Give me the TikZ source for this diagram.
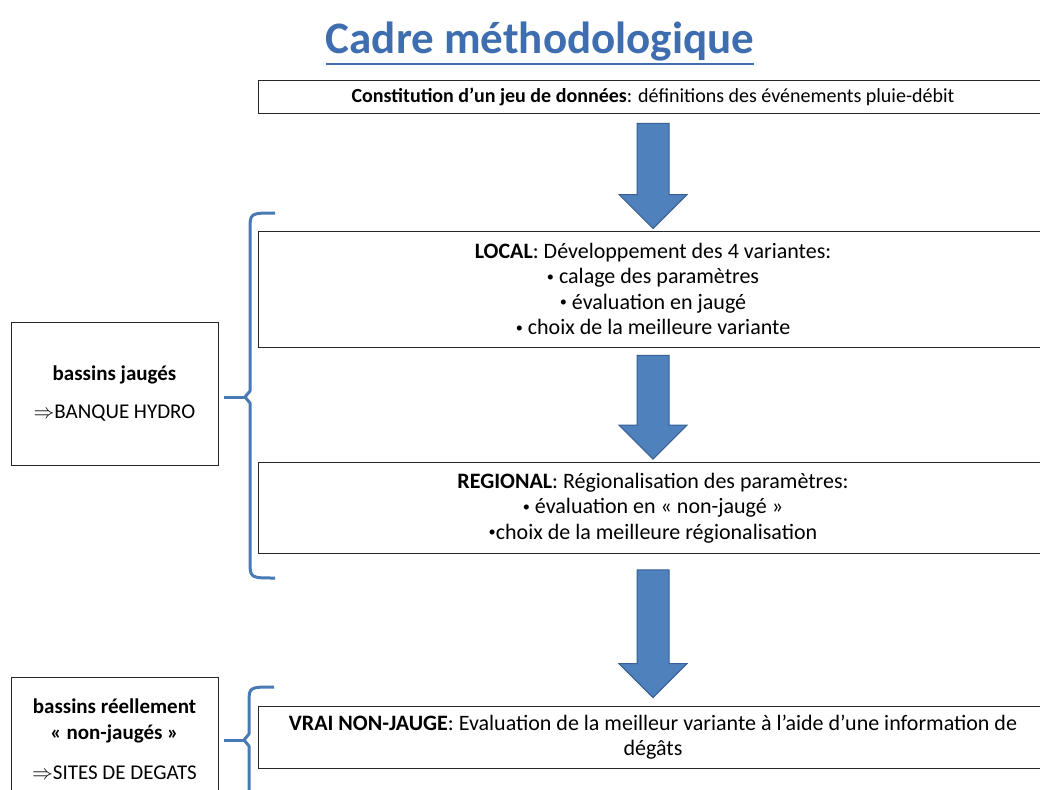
\documentclass[tikz,border=0pt]{standalone}
\usepackage{fontspec}
\usepackage{tikz}
\setmainfont{Carlito}
\usetikzlibrary{arrows.meta,positioning,calc}
\definecolor{TitleBlue}{RGB}{62,110,175}
\definecolor{FlowBlue}{RGB}{79,129,189}
\definecolor{FlowEdge}{RGB}{56,96,148}
\definecolor{BraceBlue}{RGB}{74,122,182}

\newcommand{\puce}{\raisebox{0.12em}{\scalebox{0.65}{•}}}
\newcommand{\flowarrow}[4]{%
  \path ($(#1.south)+(0,#3)$) coordinate (fs) ($(#2.north)+(0,-#4)$) coordinate (ft);
  \filldraw[flow] ($(fs)+(-16,0)$) -- ($(fs)+(16,0)$) -- ($(ft)+(16,-34)$)
    -- ($(ft)+(34,-34)$) -- (ft) -- ($(ft)+(-34,-34)$) -- ($(ft)+(-16,-34)$) -- cycle;
}

\begin{document}
\begin{tikzpicture}[x=1pt, y=-1pt,
  stage/.style={draw=black!85, line width=0.9pt, fill=white, minimum width=790pt,
    inner sep=0pt, align=center, font=\fontsize{22}{25.5}\selectfont},
  side/.style={draw=black!85, line width=0.9pt, fill=white, minimum width=207pt,
    inner sep=0pt, align=center, font=\fontsize{21}{26}\selectfont},
  flow/.style={fill=FlowBlue, draw=FlowEdge, line width=1pt, line join=miter},
  brace/.style={draw=BraceBlue, line width=3pt, line join=round}]
\clip (0,0) rectangle (1040,789);
\fill[white] (0,0) rectangle (1040,789);

\node[font=\fontsize{45}{50}\selectfont\bfseries, text=TitleBlue,
      inner xsep=0pt, inner ysep=2pt] (titre) at (540,42) {Cadre méthodologique};
\draw[TitleBlue, line width=2.5pt] (titre.south west) -- (titre.south east);

\node[stage, minimum height=33pt, font=\fontsize{20}{24}\selectfont] (donnees) at (653,96.5)
  {\textbf{Constitution d’un jeu de données}: définitions des événements pluie-débit};
\node[stage, minimum height=116pt] (local) at (653,289)
  {\textbf{LOCAL}: Développement des 4 variantes:\\
   \puce{} calage des paramètres\\
   \puce{} évaluation en jaugé\\
   \puce{} choix de la meilleure variante};
\node[stage, minimum height=91pt] (regional) at (653,508)
  {\textbf{REGIONAL}: Régionalisation des paramètres:\\
   \puce{} évaluation en «~non-jaugé~»\\
   \puce choix de la meilleure régionalisation};
\node[stage, minimum height=62pt] (vrai) at (653,737)
  {\textbf{VRAI NON-JAUGE}: Evaluation de la meilleur variante à l’aide d’une information de\\
   dégâts};

\flowarrow{donnees}{local}{10}{2}
\flowarrow{local}{regional}{8}{3}
\flowarrow{regional}{vrai}{16}{8}

\node[side, minimum height=143pt] (jauges) at (114.5,393.5)
  {\textbf{bassins jaugés}\\[12pt]$\Rightarrow$BANQUE HYDRO};
\node[side, minimum height=124pt] (nonjauges) at (114.5,739)
  {\textbf{bassins réellement}\\\textbf{«~non-jaugés~»}\\[14pt]$\Rightarrow$SITES DE DEGATS};

\coordinate (b1tip) at (245,397);
\draw[brace] (275,213) .. controls (250,213) .. (250,230) -- (250,391) -- (b1tip)
  -- (250,403) -- (250,561) .. controls (250,578) .. (275,578);
\draw[brace] ($(jauges.east |- b1tip)+(6,0)$) -- (b1tip);

\coordinate (b2tip) at (244,740);
\draw[brace] (274,687) .. controls (249,687) .. (249,703) -- (249,734) -- (b2tip)
  -- (249,746) -- (249,800);
\draw[brace] ($(nonjauges.east |- b2tip)+(6,0)$) -- (b2tip);
\end{tikzpicture}
\end{document}
